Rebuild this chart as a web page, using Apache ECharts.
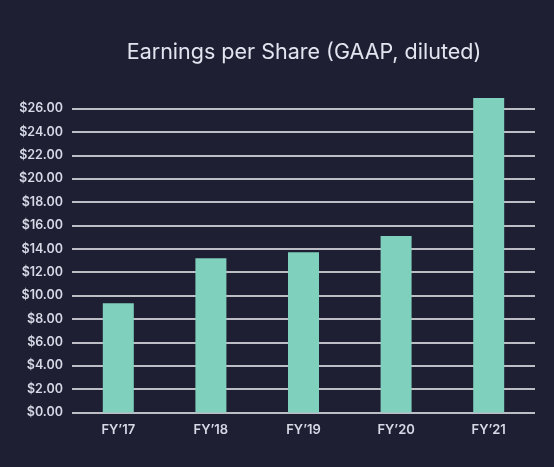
<!DOCTYPE html>
<html>
<head>
    <meta charset="utf-8">
    <title>Earnings per Share</title>
    <script src="https://cdn.jsdelivr.net/npm/echarts@6/dist/echarts.min.js"></script>
    <style>
        html, body { margin: 0; padding: 0; background: #1f1f33; }
        #main { width: 554px; height: 467px; }
    </style>
</head>
<body>
    <div id="main"></div>
    <script type="text/javascript">
        // data
        var years = ['FY\u201917', 'FY\u201918', 'FY\u201919', 'FY\u201920', 'FY\u201921'];
        var eps = [9.35, 13.2, 13.7, 15.1, 26.9];
        var yMin = 0, yMax = 26, yStep = 2;

        var myChart = echarts.init(document.getElementById('main'));

        var option = {
            backgroundColor: '#1f1f33',
            title: {
                text: 'Earnings per Share (GAAP, diluted)',
                left: 299,
                textAlign: 'center',
                top: 37,
                textStyle: {
                    color: '#e2e5ef',
                    fontFamily: 'Inter',
                    fontWeight: 'normal',
                    fontSize: 21.5
                }
            },
            grid: {
                left: 72,
                right: 19,
                top: 108.5,
                bottom: 54.5
            },
            xAxis: {
                type: 'category',
                data: years,
                axisLine: { show: false },
                axisTick: { show: false },
                axisLabel: {
                    color: '#d6dae6',
                    fontFamily: 'Inter',
                    fontWeight: 600,
                    fontSize: 13,
                    margin: 11
                }
            },
            yAxis: {
                type: 'value',
                min: yMin,
                max: yMax,
                interval: yStep,
                axisLine: { show: false },
                axisTick: { show: false },
                axisLabel: {
                    color: '#d6dae6',
                    fontFamily: 'Inter',
                    fontWeight: 600,
                    fontSize: 12.5,
                    margin: 9,
                    formatter: function (v) { return '$' + v.toFixed(2); }
                },
                splitLine: {
                    lineStyle: { color: '#bdbdc6', width: 2 }
                }
            },
            series: [
                {
                    type: 'bar',
                    data: eps,
                    barWidth: 31,
                    clip: false,
                    itemStyle: { color: '#7fd0bd' }
                }
            ]
        };

        myChart.setOption(option);
    </script>
</body>
</html>
